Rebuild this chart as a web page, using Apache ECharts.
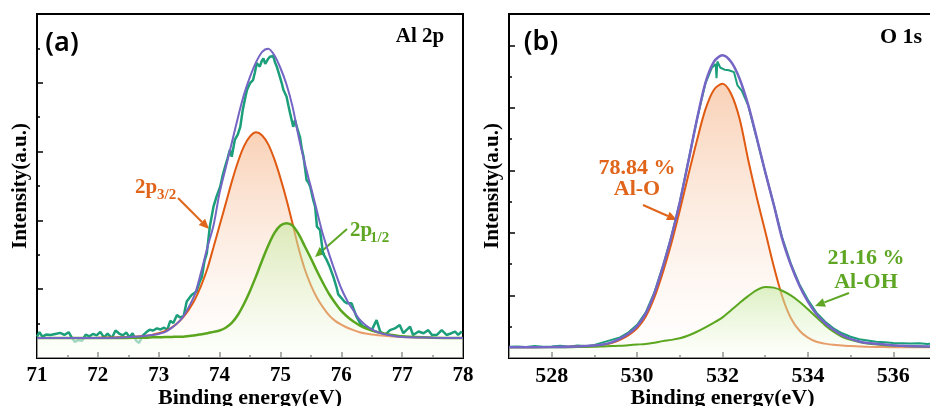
<!DOCTYPE html>
<html>
<head>
<meta charset="utf-8">
<script src="https://cdn.jsdelivr.net/npm/echarts@6/dist/echarts.min.js"></script>
<style>
html, body { margin: 0; padding: 0; background: #fff; }
#chart { width: 930px; height: 406px; }
</style>
</head>
<body>
<div id="chart"></div>
<script>
// ---- panel (a): Al 2p ----
var alFitEnergy = [71.0, 72.0, 72.3, 72.6, 72.8, 72.9, 73.0, 73.1, 73.2, 73.3, 73.4, 73.5, 73.6, 73.7, 73.8, 73.9,
  74.0, 74.1, 74.2, 74.3, 74.4, 74.5, 74.6, 74.7, 74.8, 74.9, 75.0, 75.1, 75.2, 75.3, 75.4, 75.5, 75.6, 75.7,
  75.8, 75.9, 76.0, 76.1, 76.2, 76.3, 76.4, 76.5, 76.6, 76.8, 77.0, 77.5, 78.0];
var al2p32 = [0.58, 0.59, 0.60, 0.62, 0.65, 0.68, 0.72, 0.78, 0.87, 1.00, 1.18, 1.42, 1.72, 2.12, 2.60, 3.22,
  3.85, 4.48, 5.12, 5.69, 6.15, 6.44, 6.56, 6.47, 6.21, 5.78, 5.23, 4.60, 3.90, 3.18, 2.58, 2.12, 1.75, 1.47,
  1.24, 1.08, 0.97, 0.88, 0.81, 0.75, 0.71, 0.68, 0.66, 0.63, 0.61, 0.59, 0.58];
var al2p12 = [0.58, 0.58, 0.58, 0.59, 0.59, 0.60, 0.60, 0.61, 0.61, 0.62, 0.62, 0.64, 0.66, 0.69, 0.72, 0.76,
  0.80, 0.88, 1.02, 1.25, 1.57, 1.95, 2.38, 2.84, 3.27, 3.63, 3.85, 3.92, 3.85, 3.60, 3.25, 2.90, 2.53, 2.18,
  1.86, 1.60, 1.37, 1.20, 1.06, 0.95, 0.86, 0.80, 0.75, 0.68, 0.63, 0.59, 0.58];
var alEnvelope = [0.58, 0.58, 0.59, 0.62, 0.65, 0.67, 0.70, 0.75, 0.86, 1.00, 1.20, 1.50, 1.88, 2.52, 3.22, 3.85,
  4.80, 5.52, 6.25, 6.98, 7.65, 8.17, 8.60, 8.90, 8.99, 8.80, 8.43, 7.95, 7.30, 6.42, 5.66, 4.97, 4.27, 3.58,
  3.02, 2.50, 2.02, 1.66, 1.38, 1.12, 0.95, 0.83, 0.75, 0.66, 0.61, 0.59, 0.58];
var alRawEnergy = [71.00, 71.04, 71.09, 71.15, 71.22, 71.30, 71.38, 71.45, 71.52, 71.57, 71.62, 71.68, 71.74, 71.80,
  71.86, 71.92, 71.98, 72.04, 72.10, 72.16, 72.23, 72.29, 72.35, 72.41, 72.47, 72.52, 72.57, 72.63, 72.68, 72.73,
  72.79, 72.85, 72.91, 72.97, 73.03, 73.09, 73.14, 73.19, 73.24, 73.30, 73.35, 73.41, 73.46, 73.54, 73.62, 73.67,
  73.71, 73.75, 73.79, 73.84, 73.90, 73.95, 74.01, 74.05, 74.09, 74.13, 74.17, 74.20, 74.25, 74.30, 74.34, 74.38,
  74.42, 74.45, 74.50, 74.55, 74.58, 74.61, 74.66, 74.69, 74.72, 74.75, 74.77, 74.80, 74.83, 74.88, 74.91, 74.94,
  74.99, 75.02, 75.05, 75.10, 75.13, 75.16, 75.21, 75.24, 75.28, 75.32, 75.35, 75.38, 75.43, 75.46, 75.49, 75.54,
  75.57, 75.60, 75.65, 75.70, 75.73, 75.76, 75.81, 75.87, 75.92, 75.95, 76.00, 76.05, 76.10, 76.17, 76.20, 76.25,
  76.31, 76.36, 76.42, 76.50, 76.58, 76.64, 76.72, 76.80, 76.88, 76.96, 77.02, 77.07, 77.13, 77.18, 77.27, 77.35,
  77.43, 77.49, 77.57, 77.65, 77.73, 77.81, 77.87, 77.92, 77.98];
var alRaw = [0.62, 0.75, 0.62, 0.68, 0.67, 0.70, 0.73, 0.67, 0.75, 0.60, 0.47, 0.52, 0.50, 0.68,
  0.63, 0.70, 0.66, 0.76, 0.60, 0.71, 0.58, 0.80, 0.71, 0.66, 0.74, 0.60, 0.72, 0.50, 0.44, 0.64,
  0.74, 0.82, 0.80, 0.86, 0.83, 0.88, 0.82, 1.08, 1.02, 1.25, 1.18, 1.22, 1.64, 1.83, 1.93, 2.20,
  2.36, 2.80, 3.04, 3.82, 4.40, 4.69, 4.98, 5.30, 5.56, 5.80, 6.05, 5.85, 6.34, 6.50, 6.72, 7.20,
  7.55, 7.79, 7.99, 8.08, 8.30, 8.57, 8.47, 8.62, 8.71, 8.55, 8.57, 8.70, 8.76, 8.78, 8.60, 8.47,
  8.18, 8.00, 7.79, 7.60, 7.35, 7.11, 6.72, 6.92, 6.65, 6.43, 6.10, 5.85, 5.17, 5.10, 4.98, 4.59,
  4.40, 3.82, 3.72, 3.04, 3.00, 2.85, 2.65, 2.36, 2.07, 1.85, 1.75, 1.64, 1.59, 1.59, 1.44, 1.20,
  1.01, 0.91, 0.91, 0.81, 1.10, 0.77, 0.67, 0.81, 0.86, 0.96, 0.72, 0.81, 0.91, 0.67, 0.77, 0.72,
  0.81, 0.67, 0.67, 0.81, 0.67, 0.72, 0.77, 0.67, 0.77];

// ---- panel (b): O 1s ----
var oFitEnergy = [527.0, 528.0, 528.6, 529.0, 529.2, 529.4, 529.6, 529.8, 530.0, 530.2, 530.4, 530.6, 530.8,
  531.0, 531.2, 531.4, 531.6, 531.8, 532.0, 532.2, 532.4, 532.6, 532.8, 533.0, 533.2, 533.4, 533.6, 533.8,
  534.0, 534.2, 534.4, 534.6, 534.8, 535.0, 535.2, 535.4, 535.8, 536.2, 537.0];
var oAlO = [0.34, 0.35, 0.37, 0.39, 0.42, 0.48, 0.58, 0.73, 0.95, 1.32, 1.92, 2.72, 3.65,
  4.72, 5.85, 6.95, 7.95, 8.58, 8.77, 8.45, 7.65, 6.35, 5.15, 4.05, 2.93, 1.96, 1.28, 0.88,
  0.65, 0.52, 0.46, 0.42, 0.40, 0.38, 0.37, 0.36, 0.35, 0.34, 0.34];
var oAlOH = [0.34, 0.34, 0.35, 0.36, 0.37, 0.38, 0.39, 0.41, 0.43, 0.45, 0.49, 0.54, 0.58,
  0.63, 0.72, 0.84, 0.98, 1.13, 1.30, 1.53, 1.76, 1.98, 2.17, 2.27, 2.25, 2.15, 2.00, 1.80,
  1.56, 1.30, 1.05, 0.84, 0.68, 0.58, 0.51, 0.46, 0.41, 0.38, 0.35];
var oEnvelope = [0.34, 0.35, 0.37, 0.40, 0.43, 0.50, 0.62, 0.78, 1.02, 1.42, 2.05, 2.90, 3.86,
  4.98, 6.28, 7.62, 8.80, 9.48, 9.68, 9.47, 8.93, 8.10, 7.05, 5.95, 4.90, 3.80, 2.98, 2.32,
  1.80, 1.40, 1.12, 0.90, 0.73, 0.61, 0.53, 0.48, 0.43, 0.39, 0.36];
var oRawEnergy = [527.0, 527.2, 527.4, 527.6, 527.8, 528.0, 528.2, 528.4, 528.6, 528.8, 529.0, 529.2, 529.4,
  529.6, 529.8, 530.0, 530.2, 530.4, 530.6, 530.8, 531.0, 531.2, 531.4, 531.6, 531.75, 531.84, 531.86, 531.88,
  531.95, 532.05, 532.15, 532.27, 532.35, 532.45, 532.6, 532.8, 533.0, 533.2, 533.4, 533.6, 533.8, 534.0,
  534.2, 534.4, 534.6, 534.8, 535.0, 535.2, 535.4, 535.6, 535.8, 536.0, 536.2, 536.4, 536.6, 536.8, 537.0];
var oRaw = [0.36, 0.37, 0.35, 0.38, 0.36, 0.37, 0.39, 0.36, 0.40, 0.38, 0.42, 0.50, 0.58,
  0.66, 0.82, 1.06, 1.45, 2.08, 2.92, 3.88, 4.98, 6.30, 7.62, 8.78, 9.28, 9.40, 8.95, 9.48,
  9.28, 9.22, 9.20, 9.14, 8.72, 8.55, 8.08, 7.03, 5.95, 4.92, 3.84, 3.02, 2.36, 1.86,
  1.45, 1.17, 0.95, 0.79, 0.68, 0.60, 0.56, 0.52, 0.50, 0.48, 0.47, 0.46, 0.47, 0.45, 0.46];
var oMajorX = [528, 530, 532, 534, 536];
var oMinorX = [529, 531, 533, 535];
var oMajorY = [2, 4, 6, 8, 10];
var oMinorY = [1, 3, 5, 7, 9];

var SERIF = '"Liberation Serif", "Times New Roman", serif';
var C_ORANGE = '#e05a12', C_GREEN = '#5aa61e', C_PURPLE = '#7565c4', C_TEAL = '#1b9e7a';
var T_ORANGE = '#e0651b', T_GREEN = '#5ea624';

function pairs(xs, ys) {
  return xs.map(function (x, i) { return [x, ys[i]]; });
}

function grad(top, bottom) {
  return new echarts.graphic.LinearGradient(0, 0, 0, 1, [
    { offset: 0, color: top }, { offset: 1, color: bottom }
  ]);
}

function arrow(x1, y1, x2, y2, color) {
  var dx = x2 - x1, dy = y2 - y1, len = Math.sqrt(dx * dx + dy * dy);
  var ux = dx / len, uy = dy / len, hl = 10, hw = 4.5;
  var bx = x2 - ux * hl, by = y2 - uy * hl;
  return [
    { type: 'line', shape: { x1: x1, y1: y1, x2: bx, y2: by }, style: { stroke: color, lineWidth: 2 } },
    { type: 'polygon', shape: { points: [[x2, y2], [bx - uy * hw, by + ux * hw], [bx + uy * hw, by - ux * hw]] },
      style: { fill: color } }
  ];
}

function label(text, x, y, size, color, align, family, weight) {
  return {
    type: 'text', x: x, y: y,
    style: {
      text: text, fill: color, fontSize: size, fontFamily: family || SERIF, fontWeight: weight || 'bold',
      align: align || 'center', textAlign: align || 'center', verticalAlign: 'middle', textVerticalAlign: 'middle'
    }
  };
}

var axisLine = { show: true, onZero: false, lineStyle: { color: '#000', width: 2 } };
var tickStyle = { color: '#000', width: 1.5 };

function xAxisBase(grid, min, max, fontSize) {
  return {
    type: 'value', gridIndex: grid, min: min, max: max, position: 'bottom',
    axisLine: axisLine, splitLine: { show: false },
    axisLabel: { color: '#000', fontFamily: SERIF, fontWeight: 'bold', fontSize: fontSize, margin: 7 },
    name: 'Binding energy(eV)', nameLocation: 'middle', nameGap: 29, nameMoveOverlap: false,
    nameTextStyle: { color: '#000', fontFamily: SERIF, fontWeight: 'bold', fontSize: 22 }
  };
}

function yAxisBase(grid, min, max) {
  return {
    type: 'value', gridIndex: grid, min: min, max: max, position: 'left',
    axisLine: axisLine, splitLine: { show: false }, axisLabel: { show: false },
    name: 'Intensity(a.u.)', nameLocation: 'middle', nameGap: 6, nameMoveOverlap: false,
    nameTextStyle: { color: '#000', fontFamily: SERIF, fontWeight: 'bold', fontSize: 21 }
  };
}

var xa0 = xAxisBase(0, 71, 78, 21);
xa0.interval = 1;
xa0.axisTick = { inside: true, length: 6, lineStyle: tickStyle };
xa0.minorTick = { show: true, splitNumber: 2, length: 3, lineStyle: tickStyle };

var xa1 = xAxisBase(1, 527, 537, 22);
xa1.axisLabel.customValues = oMajorX;
xa1.axisTick = { inside: true, length: 6, lineStyle: tickStyle, customValues: oMajorX };

var xa1m = {
  type: 'value', gridIndex: 1, min: 527, max: 537, position: 'bottom',
  axisLine: { show: false }, splitLine: { show: false }, axisLabel: { show: false },
  axisTick: { inside: true, length: 3, lineStyle: tickStyle, customValues: oMinorX }
};

var ya0 = yAxisBase(0, 0, 10);
ya0.interval = 2;
ya0.axisTick = { inside: true, length: 6, lineStyle: tickStyle };
ya0.minorTick = { show: true, splitNumber: 2, length: 3, lineStyle: tickStyle };

var ya1 = yAxisBase(1, 0, 11);
ya1.axisTick = { inside: true, length: 6, lineStyle: tickStyle, customValues: oMajorY };

var ya1m = {
  type: 'value', gridIndex: 1, min: 0, max: 11, position: 'left',
  axisLine: { show: false }, splitLine: { show: false }, axisLabel: { show: false },
  axisTick: { inside: true, length: 3, lineStyle: tickStyle, customValues: oMinorY }
};

function lineSeries(xi, yi, data, color, width, z, area) {
  var s = {
    type: 'line', xAxisIndex: xi, yAxisIndex: yi, data: data, showSymbol: false, symbol: 'none',
    smooth: 0.3, z: z, lineStyle: { color: color, width: width }, silent: true
  };
  if (area) s.areaStyle = { color: area, origin: 'start' };
  return s;
}

var orangeFill = function () { return grad('rgba(246,186,146,0.95)', 'rgba(255,255,255,0.45)'); };
var greenFill = function () { return grad('rgba(194,234,156,0.8)', 'rgba(252,255,248,0.55)'); };

var rawA = lineSeries(0, 0, pairs(alRawEnergy, alRaw), C_TEAL, 2.5, 2);
rawA.smooth = false;
var rawB = lineSeries(2, 2, pairs(oRawEnergy, oRaw), C_TEAL, 2, 2);
rawB.smooth = false;

var graphics = [
  label('(a)', 62, 43, 27, '#000', 'center', '"Noto Sans", sans-serif', 600),
  label('Al 2p', 420, 37, 21, '#000'),
  label('(b)', 541, 42, 27, '#000', 'center', '"Noto Sans", sans-serif', 600),
  label('O 1s', 901, 37, 22, '#000'),
  label('2p', 135, 188, 21, T_ORANGE, 'left'),
  label('3/2', 157, 195, 15, T_ORANGE, 'left'),
  label('2p', 350, 231, 21, T_GREEN, 'left'),
  label('1/2', 370, 238, 15, T_GREEN, 'left'),
  label('78.84 %', 637, 168, 22, T_ORANGE),
  label('Al-O', 637, 189, 22, T_ORANGE),
  label('21.16 %', 866, 258, 22, T_GREEN),
  label('Al-OH', 866, 282, 22, T_GREEN)
].concat(
  arrow(178, 198, 209, 229, T_ORANGE),
  arrow(347, 229, 315, 257, T_GREEN),
  arrow(643, 205, 677, 220, T_ORANGE),
  arrow(849, 293, 815, 306, T_GREEN)
);

var myChart = echarts.init(document.getElementById('chart'), null, { renderer: 'canvas' });
var option = {
  animation: false,
  backgroundColor: '#fff',
  grid: [
    { left: 37, top: 14, width: 426, height: 344, show: true, borderColor: '#000', borderWidth: 2,
      containLabel: false, outerBoundsMode: 'none' },
    { left: 509, top: 14, width: 427, height: 344, show: true, borderColor: '#000', borderWidth: 2,
      containLabel: false, outerBoundsMode: 'none' }
  ],
  xAxis: [xa0, xa1m, xa1],
  yAxis: [ya0, ya1m, ya1],
  series: [
    rawA,
    lineSeries(0, 0, pairs(alFitEnergy, al2p32), C_ORANGE, 2, 3, orangeFill()),
    lineSeries(0, 0, pairs(alFitEnergy, al2p12), C_GREEN, 2.5, 4, greenFill()),
    lineSeries(0, 0, pairs(alFitEnergy, alEnvelope), C_PURPLE, 2, 5),
    rawB,
    lineSeries(2, 2, pairs(oFitEnergy, oAlO), C_ORANGE, 2, 3, orangeFill()),
    lineSeries(2, 2, pairs(oFitEnergy, oAlOH), C_GREEN, 2, 4, greenFill()),
    lineSeries(2, 2, pairs(oFitEnergy, oEnvelope), C_PURPLE, 2.5, 5)
  ],
  graphic: graphics
};
myChart.setOption(option);
</script>
</body>
</html>
